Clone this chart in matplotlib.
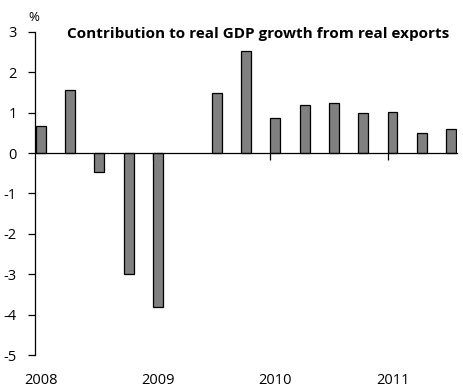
import numpy as np
import matplotlib.pyplot as plt

quarters = ['2008Q1', '2008Q2', '2008Q3', '2008Q4', '2009Q1', '2009Q2', '2009Q3', '2009Q4',
            '2010Q1', '2010Q2', '2010Q3', '2010Q4', '2011Q1', '2011Q2', '2011Q3']
contrib = [0.67, 1.56, -0.47, -2.99, -3.81, 0.0, 1.49, 2.52,
           0.87, 1.20, 1.23, 1.00, 1.03, 0.51, 0.60]
year_labels = ['2008', '2009', '2010', '2011']
y_ticks = [3, 2, 1, 0, -1, -2, -3, -4, -5]

plt.rcParams['font.family'] = ['Open Sans', 'DejaVu Sans']

fig = plt.figure(figsize=(4.63, 3.9), dpi=100)
ax = fig.add_axes([0.0756, 0.0897, 0.9114, 0.8283])

x = np.arange(len(quarters))
# no outline on an empty (zero) bar
lw = [0.9 if v != 0 else 0 for v in contrib]
ax.bar(x, contrib, width=0.34, color='#808080', edgecolor='black', linewidth=lw, zorder=2)

ax.set_xlim(-0.2, len(quarters) - 0.8)
ax.set_ylim(-5, 3)

for s in ['top', 'right']:
    ax.spines[s].set_visible(False)
ax.spines['left'].set_linewidth(0.9)
ax.spines['bottom'].set_position(('data', 0))
ax.spines['bottom'].set_linewidth(0.9)
ax.spines['bottom'].set_zorder(3)

# year boundary ticks on the zero line, no labels there
ax.set_xticks(x[4::4] - 0.17)
ax.set_xticklabels([])
ax.tick_params(axis='x', direction='out', length=5, width=0.9)

ax.set_yticks(y_ticks)
ax.set_yticklabels([str(v) for v in y_ticks])
ax.tick_params(axis='y', direction='out', length=5, width=0.9, pad=8, labelsize=10.5)

# year labels along the bottom
sec = ax.secondary_xaxis(0)
sec.spines['bottom'].set_visible(False)
sec.set_xticks(x[::4])
sec.set_xticklabels(year_labels)
sec.tick_params(length=0, pad=13, labelsize=10.5)

fig.text(0.072, 0.955, '%', ha='center', va='center', fontsize=9.5)
fig.text(0.558, 0.913, 'Contribution to real GDP growth from real exports',
         ha='center', va='center', fontsize=11, fontweight='bold')

fig.savefig('out.png', dpi=100)
